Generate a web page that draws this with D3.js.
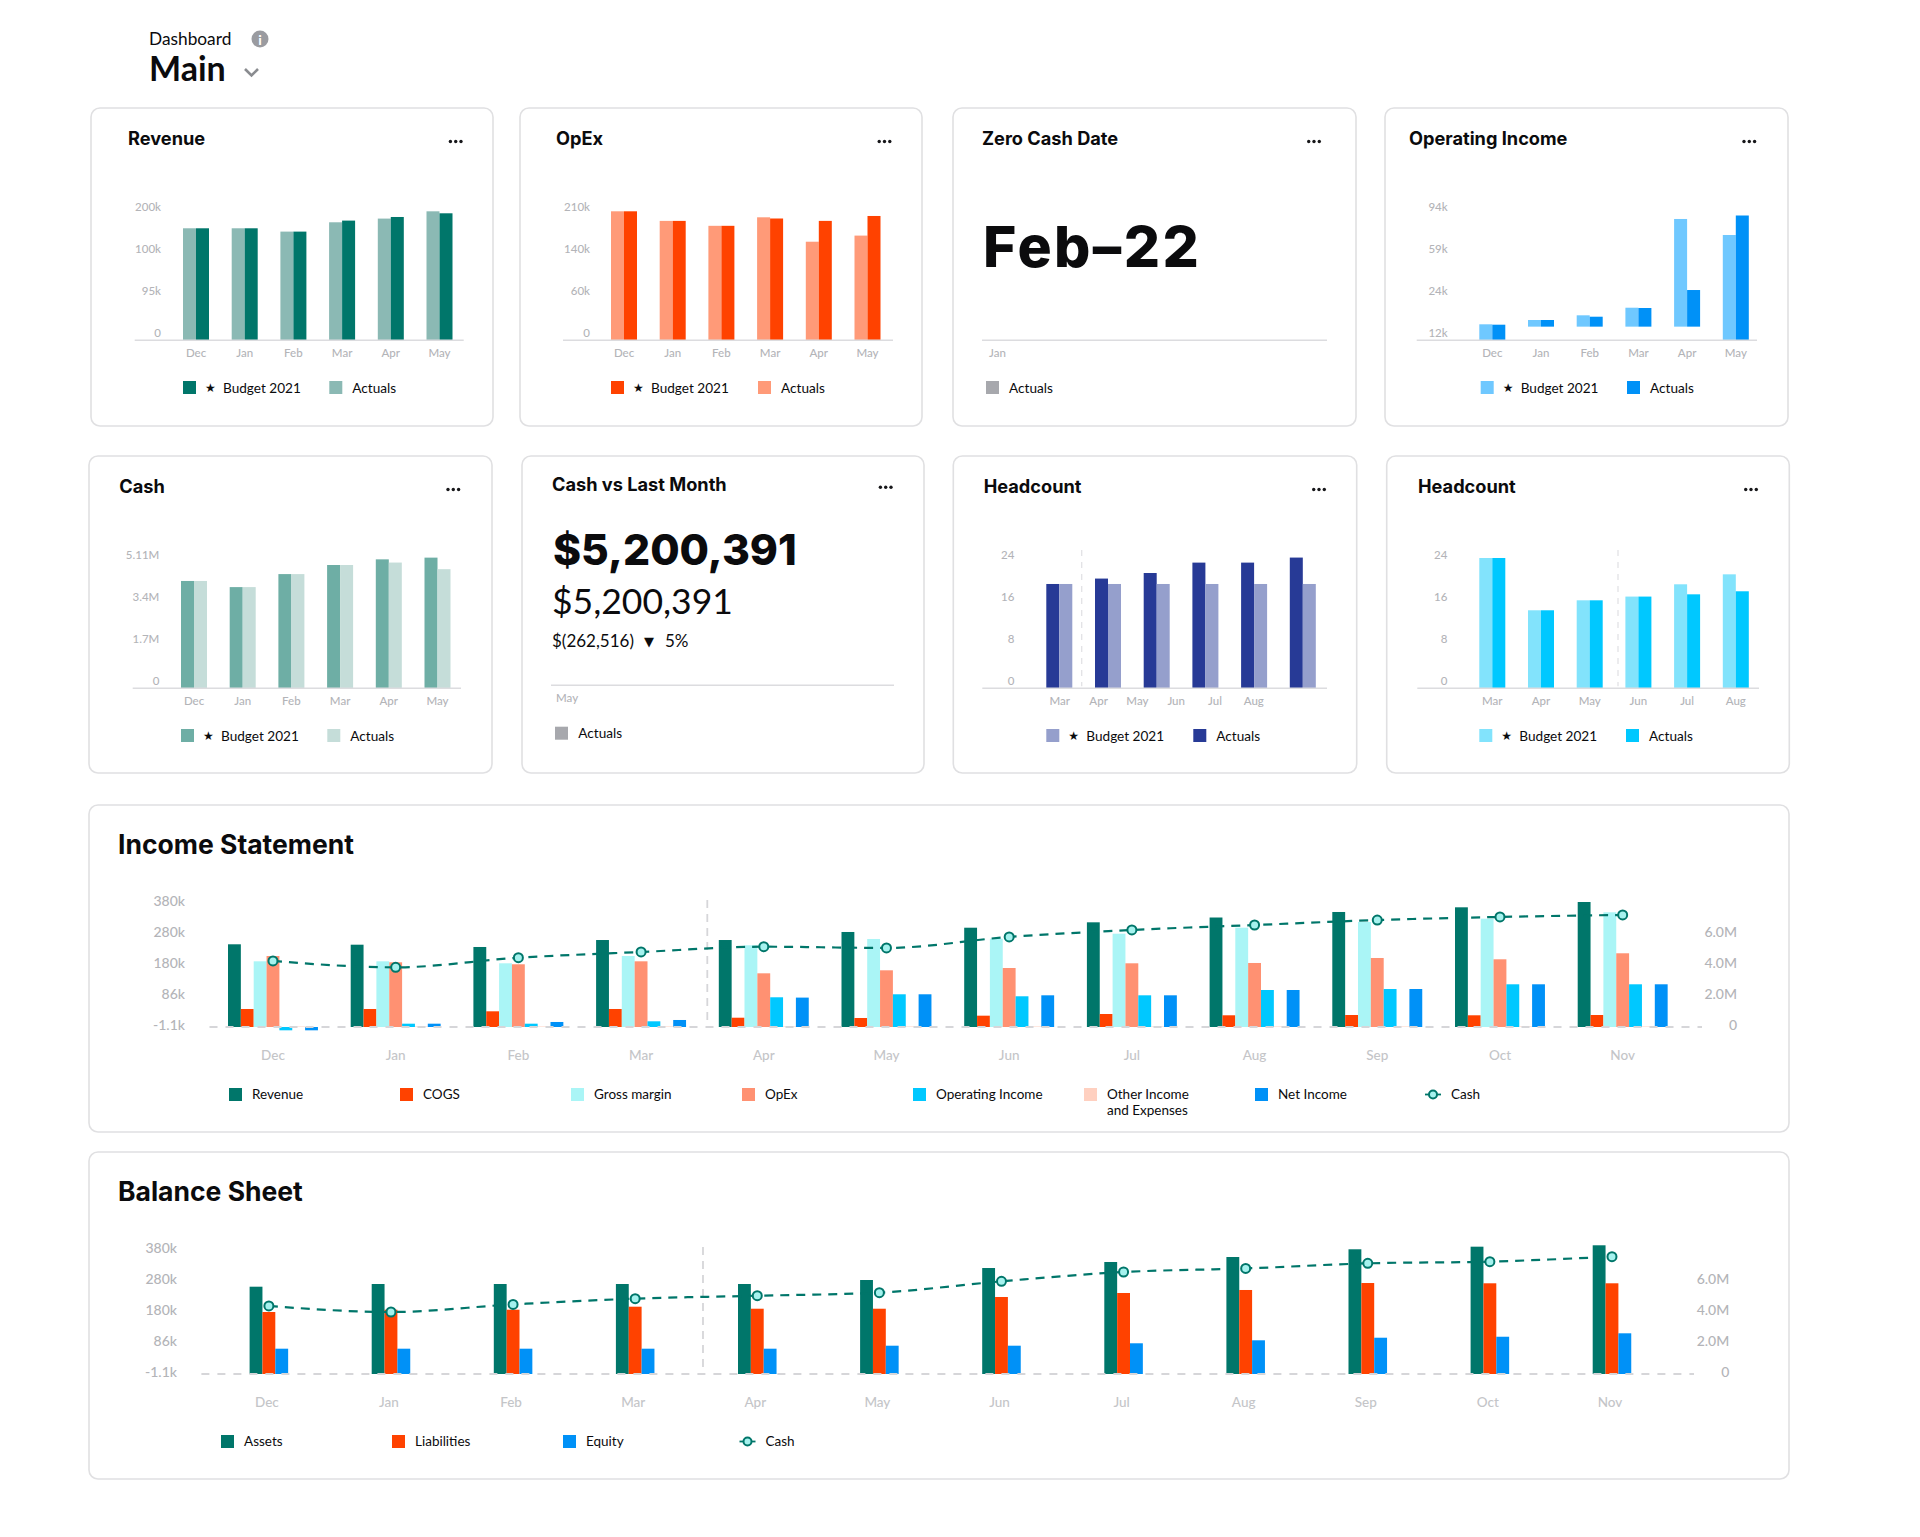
<!DOCTYPE html>
<html>
<head>
<meta charset="utf-8">
<script src="https://cdn.jsdelivr.net/npm/d3@7"></script>
<style>
  html, body { margin: 0; background: #fff; }
  text { font-family: Lato, "Open Sans", sans-serif; }
  .head { font-family: Inter, Lato, sans-serif; }
  .tick text { font-weight: 500; }
</style>
</head>
<body>
<div id="chart"></div>
<script>
// months
const halfYear = ["Dec", "Jan", "Feb", "Mar", "Apr", "May"];
const headMonths = ["Mar", "Apr", "May", "Jun", "Jul", "Aug"];
const fullYear = ["Dec", "Jan", "Feb", "Mar", "Apr", "May", "Jun", "Jul", "Aug", "Sep", "Oct", "Nov"];

// small cards, in k / M / people
const revenueTicks = [0, 95, 100, 200];
const revenueBudget = [166.7, 166.7, 158.8, 185, 193.6, 202.4];
const revenueActuals = [166.7, 166.7, 158.8, 181, 189.8, 207.1];

const opexTicks = [0, 60, 140, 210];
const opexBudget = [215, 199, 190.8, 203, 199, 207.2];
const opexActuals = [215, 199, 190.8, 205, 164.3, 174.5];

const opIncomeTicks = [12, 24, 59, 94];
const opIncomeBudget = [16.57, 17.8, 19.14, 21.31, 90.1, 76.75];
const opIncomeActuals = [16.46, 17.8, 18.74, 21.23, 30.9, 93];
const opIncomeFloor = [12, 15.9, 15.9, 15.9, 15.9, 12];

const cashTicks = [0, 1.7, 3.4, 5.11];
const cashTickLabels = ["0", "1.7M", "3.4M", "5.11M"];
const cashBudget = [4.35, 4.1, 4.63, 5.0, 5.23, 5.3];
const cashActuals = [4.35, 4.1, 4.63, 5.0, 5.1, 4.83];

const headTicks = [0, 8, 16, 24];
const head1Budget = [19.87, 19.87, 19.87, 19.87, 19.87, 19.87];
const head1Actuals = [19.87, 20.9, 21.96, 23.94, 23.94, 24.9];
const head2Budget = [24.82, 14.86, 16.76, 17.47, 19.81, 21.71];
const head2Actuals = [24.82, 14.86, 16.76, 17.47, 17.9, 18.48];

// income statement, in k, cash in M
const bigTicks = [-1.1, 86, 180, 280, 380];
const bigTickLabels = ["-1.1k", "86k", "180k", "280k", "380k"];
const cashAxisTicks = [0, 2, 4, 6];
const cashAxisLabels = ["0", "2.0M", "4.0M", "6.0M"];

const incomeRevenue = [246.8, 245.5, 238.1, 260.6, 260.6, 286.5, 300.3, 317.7, 333.2, 351, 366.1, 383.2];
const incomeCogs = [49.5, 49.5, 43, 49.5, 25, 24.2, 30.7, 35.4, 31.8, 32.6, 31.8, 32.6];
const incomeGross = [191.9, 191.9, 185.5, 209, 243.6, 263.9, 264.8, 281, 300.3, 318.7, 329.4, 350];
const incomeOpex = [209, 188.7, 182.3, 191.9, 154.8, 163.9, 170.9, 185.5, 186.5, 202.6, 198.4, 217.8];
const incomeOperating = [-10.4, 8.2, 8.2, 14.9, 82.4, 91.2, 85.2, 88.1, 104.2, 107.2, 121.5, 121.5];
const incomeOther = [0.3, 0.3, 0.3, 0.3, 0.3, 0.3, 0.3, 0.3, 0.3, 0.3, 0.3, 0.3];
const incomeNet = [-10.4, 8.2, 13, 18.6, 81.5, 91.2, 88.1, 88.1, 104.2, 107.2, 121.5, 121.5];
const incomeCash = [4.26, 3.85, 4.47, 4.84, 5.18, 5.1, 5.81, 6.26, 6.58, 6.9, 7.1, 7.23];

// balance sheet
const balanceAssets = [261.6, 270.3, 270.3, 270.3, 270.3, 283.2, 321.9, 341.3, 357.4, 382.3, 390.7, 395.2];
const balanceLiabilities = [180, 187.4, 187.4, 197.1, 190.6, 190.6, 228.4, 241.3, 251, 273.5, 272.6, 272.6];
const balanceEquity = [70, 70, 70, 70, 70, 78.4, 78.4, 85.2, 94.2, 102, 105, 115.4];
const balanceCash = [4.39, 4.0, 4.49, 4.86, 5.05, 5.25, 5.98, 6.58, 6.81, 7.14, 7.25, 7.57];

const grey = "#a7a8ad";
const axisInk = "#b3b4b8";
const monthInk = "#c4c5c8";
const ruleInk = "#dcdcdf";

const svg = d3.select("#chart").append("svg").attr("width", 1920).attr("height", 1537);

function label(g, x, y, str, size, weight, fill) {
  return g.append("text").attr("x", x).attr("y", y).attr("font-size", size)
    .attr("font-weight", weight || 400).attr("fill", fill || "#0b0b0d").text(str);
}

function heading(x, y, str, size, weight) {
  return label(svg, x, y, str, size, weight).attr("class", "head");
}

function card(x0, y0, x1, y1) {
  svg.append("rect").attr("x", x0).attr("y", y0).attr("width", x1 - x0).attr("height", y1 - y0)
    .attr("rx", 9).attr("fill", "#fff").attr("stroke", "#e0e0e2").attr("stroke-width", 1.6);
}

function dots(cx, cy) {
  svg.selectAll(null).data([-1, 0, 1]).enter().append("circle")
    .attr("cx", (d) => cx + d * 5.3).attr("cy", cy).attr("r", 1.7).attr("fill", "#17171a");
}

// x0 is the left edge of the first bar, step the distance between groups
function groupScale(months, x0, step, groupWidth) {
  const pad = 1 - groupWidth / step;
  return d3.scaleBand().domain(months).range([x0, x0 + step * (months.length - pad)]).paddingInner(pad);
}

function swatch(x, y, color) {
  svg.append("rect").attr("x", x).attr("y", y).attr("width", 13).attr("height", 13).attr("fill", color);
}

function smallCard(o) {
  card(o.box[0], o.box[1], o.box[2], o.box[3]);
  const top = o.box[1];
  heading(o.titleX, top + 37, o.title, 18.2, 700);
  dots(o.dotsX, top + 33.5);

  const base = top + 232.3;
  const y = d3.scaleLinear().domain(o.ticks).range([base, base - 42, base - 84, base - 126]);
  const x = groupScale(o.months, o.barX, 48.7, 26);
  const inner = d3.scaleBand().domain([0, 1]).range([0, x.bandwidth()]);

  const yAxis = d3.axisLeft(y).tickValues(o.ticks).tickSize(0).tickPadding(0)
    .tickFormat((d, i) => (o.tickLabels ? o.tickLabels[i] : d === 0 ? "0" : d + (o.suffix || "")));
  const ya = svg.append("g").attr("transform", `translate(${o.labelX},-7)`).call(yAxis);
  ya.select(".domain").remove();
  ya.selectAll("text").attr("font-size", 11.5).attr("fill", axisInk);

  o.bars.forEach((b, i) => {
    svg.selectAll(null).data(o.months).enter().append("rect")
      .attr("x", (m) => x(m) + inner(i))
      .attr("y", (m, j) => y(b.values[j]))
      .attr("width", inner.bandwidth())
      .attr("height", (m, j) => y(o.floor ? o.floor[j] : o.ticks[0]) - y(b.values[j]))
      .attr("fill", b.color);
  });

  svg.append("line").attr("x1", o.axis[0]).attr("x2", o.axis[1]).attr("y1", base).attr("y2", base)
    .attr("stroke", ruleInk).attr("stroke-width", 1.5);

  const xs = o.labelRange
    ? d3.scalePoint().domain(o.months).range(o.labelRange)
    : d3.scaleBand().domain(o.months).range(x.range()).paddingInner(x.paddingInner());
  const xa = svg.append("g").attr("transform", `translate(0,${base + 9})`)
    .call(d3.axisBottom(xs).tickSize(0).tickPadding(0));
  xa.select(".domain").remove();
  xa.selectAll("text").attr("font-size", 11.5).attr("fill", axisInk);

  if (o.splitX) {
    svg.append("line").attr("x1", o.splitX).attr("x2", o.splitX).attr("y1", top + 94).attr("y2", base - 2)
      .attr("stroke", "#e2e2e5").attr("stroke-width", 1.3).attr("stroke-dasharray", "6 6");
  }

  // legend
  const ly = top + 273;
  swatch(o.legend[0], ly, o.legendColors[0]);
  label(svg, o.legend[0] + 22, ly + 11, "★", 12, 400).attr("style", "font-family:'DejaVu Sans'");
  label(svg, o.legend[0] + 40, ly + 12, "Budget 2021", 13.6, 400);
  swatch(o.legend[1], ly, o.legendColors[1]);
  label(svg, o.legend[1] + 23, ly + 11.5, "Actuals", 13.6, 400);
}

function bigCard(o) {
  card(89, o.top, 1789, o.top + 327);
  heading(118, o.top + 49, o.title, 26.5, 700);

  const base = o.top + 222;
  const y = d3.scaleLinear().domain(bigTicks).range([base, base - 31, base - 62, base - 93, base - 124]);
  const yCash = d3.scaleLinear().domain([0, 6]).range([base, base - 93]);

  const x = groupScale(fullYear, o.barX, o.step, o.series.length * 12.85);
  const inner = d3.scaleBand().domain(o.series.map((s) => s.name)).range([0, x.bandwidth()]);
  const zero = y(-1.1);

  const ya = svg.append("g").attr("transform", `translate(${o.leftLabelX},-2.3)`)
    .call(d3.axisLeft(y).tickValues(bigTicks).tickSize(0).tickPadding(0).tickFormat((d, i) => bigTickLabels[i]));
  ya.select(".domain").remove();
  ya.selectAll("text").attr("font-size", 14).attr("fill", axisInk);

  const yr = svg.append("g").attr("transform", `translate(${o.rightLabelX},-2.3)`)
    .call(d3.axisLeft(yCash).tickValues(cashAxisTicks).tickSize(0).tickPadding(0).tickFormat((d, i) => cashAxisLabels[i]));
  yr.select(".domain").remove();
  yr.selectAll("text").attr("font-size", 14).attr("fill", axisInk);

  o.series.forEach((s) => {
    svg.selectAll(null).data(fullYear).enter().append("rect")
      .attr("x", (m) => x(m) + inner(s.name))
      .attr("y", (m, j) => Math.min(y(s.values[j]), zero))
      .attr("width", inner.bandwidth())
      .attr("height", (m, j) => Math.abs(y(s.values[j]) - zero))
      .attr("fill", s.color);
  });

  svg.append("line").attr("x1", o.axis[0]).attr("x2", o.axis[1]).attr("y1", base).attr("y2", base)
    .attr("stroke", "#d6d6d9").attr("stroke-width", 2).attr("stroke-dasharray", "8 8");

  const splitX = x("Apr") - o.splitGap;
  svg.append("line").attr("x1", splitX).attr("x2", splitX).attr("y1", base - 127).attr("y2", base - 3)
    .attr("stroke", "#d6d6d9").attr("stroke-width", 1.8).attr("stroke-dasharray", "8 6");

  const xa = svg.append("g").attr("transform", `translate(${o.monthShift},${base + 23})`)
    .call(d3.axisBottom(x).tickSize(0).tickPadding(0));
  xa.select(".domain").remove();
  xa.selectAll("text").attr("font-size", 13.5).attr("fill", monthInk);

  const mid = (m) => x(m) + x.bandwidth() / 2;
  const line = d3.line().x((m) => mid(m)).y((m, j) => yCash(o.cash[j])).curve(d3.curveMonotoneX);
  svg.append("path").attr("d", line(fullYear)).attr("fill", "none").attr("stroke", "#00766a")
    .attr("stroke-width", 2.2).attr("stroke-dasharray", "9 7");
  svg.selectAll(null).data(fullYear).enter().append("circle")
    .attr("cx", mid).attr("cy", (m, j) => yCash(o.cash[j])).attr("r", 4.5)
    .attr("fill", "#a5f2ee").attr("stroke", "#00766a").attr("stroke-width", 2);

  // legend
  const ly = o.top + 283;
  o.series.forEach((s, i) => {
    const lx = o.legendX + i * 171;
    swatch(lx, ly, s.color);
    label(svg, lx + 23, ly + 11, s.name, 13.5, 400);
    if (s.second) label(svg, lx + 23, ly + 27, s.second, 13.5, 400);
  });
  const cx = o.cashLegendX;
  svg.append("line").attr("x1", cx - 8).attr("x2", cx + 8).attr("y1", ly + 6.5).attr("y2", ly + 6.5)
    .attr("stroke", "#00766a").attr("stroke-width", 1.8);
  svg.append("circle").attr("cx", cx).attr("cy", ly + 6.5).attr("r", 4)
    .attr("fill", "#a5f2ee").attr("stroke", "#00766a").attr("stroke-width", 2);
  label(svg, cx + 18, ly + 11, "Cash", 13.5, 400);
}

// header
label(svg, 149, 45, "Dashboard", 17.3, 400);
svg.append("circle").attr("cx", 260).attr("cy", 39).attr("r", 8.5).attr("fill", "#9a9ba0");
label(svg, 260, 44.5, "i", 14, 700, "#fff").attr("text-anchor", "middle");
label(svg, 149, 81, "Main", 34, 700);
svg.append("path").attr("d", d3.line()([[245, 69], [251.5, 75.5], [258, 69]]))
  .attr("fill", "none").attr("stroke", "#8a8c90").attr("stroke-width", 2.6);

// top row
smallCard({ box: [91, 108, 493, 426], title: "Revenue", titleX: 128, dotsX: 455.7, ticks: revenueTicks, suffix: "k",
  months: halfYear, barX: 183, labelX: 161, axis: [134.7, 463.7],
  bars: [{ values: revenueActuals, color: "#8bb9b4" }, { values: revenueBudget, color: "#00766a" }],
  legend: [183, 329.3], legendColors: ["#00766a", "#8bb9b4"] });

smallCard({ box: [520, 108, 922, 426], title: "OpEx", titleX: 556, dotsX: 884.5, ticks: opexTicks, suffix: "k",
  months: halfYear, barX: 611, labelX: 590, axis: [563, 893],
  bars: [{ values: opexActuals, color: "#ff9a78" }, { values: opexBudget, color: "#ff4200" }],
  legend: [611, 758], legendColors: ["#ff4200", "#ff9a78"] });

card(953, 108, 1356, 426);
heading(982, 145, "Zero Cash Date", 18.2, 700);
dots(1314, 141.5);
heading(983, 267, "Feb–22", 57, 800).attr("letter-spacing", 2.4);
svg.append("line").attr("x1", 982).attr("x2", 1327).attr("y1", 340.3).attr("y2", 340.3).attr("stroke", ruleInk).attr("stroke-width", 1.5);
label(svg, 989, 357, "Jan", 11.5, 500, axisInk);
swatch(986, 381, grey);
label(svg, 1009, 392.5, "Actuals", 13.6, 400);

smallCard({ box: [1385, 108, 1788, 426], title: "Operating Income", titleX: 1409, dotsX: 1749.3, ticks: opIncomeTicks, suffix: "k",
  months: halfYear, barX: 1479.3, labelX: 1447.7, axis: [1416.7, 1757], floor: opIncomeFloor,
  bars: [{ values: opIncomeBudget, color: "#6fc8ff" }, { values: opIncomeActuals, color: "#0091f7" }],
  legend: [1480.7, 1627], legendColors: ["#6fc8ff", "#0091f7"] });

// second row
smallCard({ box: [89, 456, 492, 773], title: "Cash", titleX: 119.3, dotsX: 453.3, ticks: cashTicks, tickLabels: cashTickLabels,
  months: halfYear, barX: 181, labelX: 159.3, axis: [132.7, 461],
  bars: [{ values: cashBudget, color: "#6eaea5" }, { values: cashActuals, color: "#c5ddd9" }],
  legend: [181, 327.3], legendColors: ["#6eaea5", "#c5ddd9"] });

card(522, 456, 924, 773);
heading(552, 490.5, "Cash vs Last Month", 18.2, 700);
dots(885.7, 487.3);
heading(553, 565, "$5,200,391", 42.6, 800);
label(svg, 552, 614, "$5,200,391", 35.5, 400);
label(svg, 552, 646.7, "$(262,516)", 17, 400);
label(svg, 649, 646, "▼", 13, 400).attr("text-anchor", "middle").attr("style", "font-family:'DejaVu Sans'");
label(svg, 665, 646.7, "5%", 17, 400);
svg.append("line").attr("x1", 551).attr("x2", 894).attr("y1", 685.3).attr("y2", 685.3).attr("stroke", ruleInk).attr("stroke-width", 1.5);
label(svg, 556, 702, "May", 11.5, 500, axisInk);
swatch(555, 726.7, grey);
label(svg, 578.3, 738, "Actuals", 13.6, 400);

smallCard({ box: [953.3, 456, 1356.7, 773], title: "Headcount", titleX: 983.7, dotsX: 1319, ticks: headTicks,
  months: headMonths, barX: 1046.3, labelX: 1014.3, axis: [982.3, 1327], labelRange: [1059.3, 1253.3], splitX: 1081.7,
  bars: [{ values: head1Actuals, color: "#273a96" }, { values: head1Budget, color: "#959fcc" }],
  legend: [1046.3, 1193.3], legendColors: ["#959fcc", "#273a96"] });

smallCard({ box: [1386.7, 456, 1789.3, 773], title: "Headcount", titleX: 1418, dotsX: 1751, ticks: headTicks,
  months: headMonths, barX: 1479.3, labelX: 1447.3, axis: [1417.3, 1759], splitX: 1618,
  bars: [{ values: head2Budget, color: "#82e3fc" }, { values: head2Actuals, color: "#00c8ff" }],
  legend: [1479.3, 1626], legendColors: ["#82e3fc", "#00c8ff"] });

// wide cards
bigCard({ top: 805, title: "Income Statement", barX: 228, step: 122.7, leftLabelX: 185, rightLabelX: 1737,
  axis: [209.5, 1702], splitGap: 11.5, monthShift: 0, legendX: 229, cashLegendX: 1433, cash: incomeCash,
  series: [
    { name: "Revenue", values: incomeRevenue, color: "#00766a" },
    { name: "COGS", values: incomeCogs, color: "#ff4200" },
    { name: "Gross margin", values: incomeGross, color: "#aaf5f6" },
    { name: "OpEx", values: incomeOpex, color: "#ff9172" },
    { name: "Operating Income", values: incomeOperating, color: "#00c8ff" },
    { name: "Other Income", second: "and Expenses", values: incomeOther, color: "#ffd0c0" },
    { name: "Net Income", values: incomeNet, color: "#0091f7" },
  ] });

bigCard({ top: 1152, title: "Balance Sheet", barX: 249.6, step: 122.1, leftLabelX: 177, rightLabelX: 1729.3,
  axis: [201.4, 1694], splitGap: 35, monthShift: -2, legendX: 221, cashLegendX: 747.5, cash: balanceCash,
  series: [
    { name: "Assets", values: balanceAssets, color: "#00766a" },
    { name: "Liabilities", values: balanceLiabilities, color: "#ff4200" },
    { name: "Equity", values: balanceEquity, color: "#0091f7" },
  ] });
</script>
</body>
</html>
